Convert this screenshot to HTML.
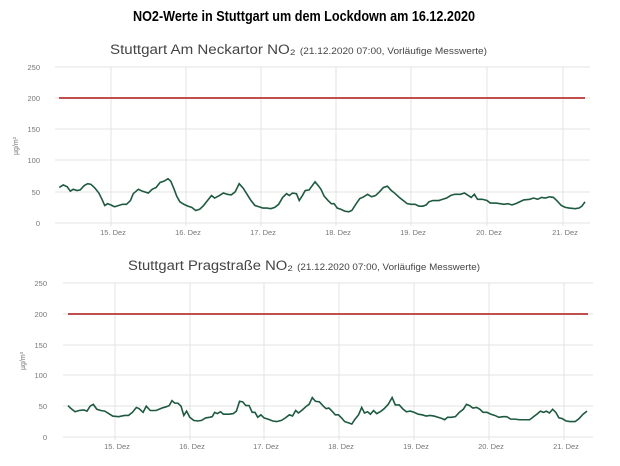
<!DOCTYPE html>
<html><head><meta charset="utf-8"><style>
html,body{margin:0;padding:0;background:#fff;}
svg{display:block;font-family:"Liberation Sans",sans-serif;}
</style></head><body>
<svg width="620" height="466" viewBox="0 0 620 466">
<text x="133" y="21" textLength="342" lengthAdjust="spacingAndGlyphs" font-size="15" font-weight="bold" fill="#000">NO2-Werte in Stuttgart um dem Lockdown am 16.12.2020</text>

<!-- Chart 1 -->
<text x="110" y="54" textLength="377" lengthAdjust="spacingAndGlyphs" font-size="13.5" fill="#444">Stuttgart Am Neckartor NO₂ <tspan font-size="9">(21.12.2020 07:00, Vorläufige Messwerte)</tspan></text>
<g stroke="#e3e3e3" stroke-width="1">
<line x1="55" x2="590" y1="67" y2="67"/><line x1="55" x2="590" y1="98" y2="98"/><line x1="55" x2="590" y1="129" y2="129"/><line x1="55" x2="590" y1="160" y2="160"/><line x1="55" x2="590" y1="192" y2="192"/><line x1="55" x2="590" y1="223" y2="223"/>
<line x1="111" x2="111" y1="67" y2="226"/><line x1="186" x2="186" y1="67" y2="226"/><line x1="261" x2="261" y1="67" y2="226"/><line x1="336" x2="336" y1="67" y2="226"/><line x1="411" x2="411" y1="67" y2="226"/><line x1="487" x2="487" y1="67" y2="226"/><line x1="563" x2="563" y1="67" y2="226"/>
</g>
<g font-size="7.5" fill="#777" text-anchor="end">
<text x="40" y="70">250</text><text x="40" y="101">200</text><text x="40" y="132">150</text><text x="40" y="163">100</text><text x="40" y="195">50</text><text x="40" y="226">0</text>
</g>
<g font-size="7.5" fill="#777" text-anchor="middle">
<text x="113" y="235">15. Dez</text><text x="188" y="235">16. Dez</text><text x="263" y="235">17. Dez</text><text x="338" y="235">18. Dez</text><text x="413" y="235">19. Dez</text><text x="489" y="235">20. Dez</text><text x="565" y="235">21. Dez</text>
</g>
<text transform="translate(18,146) rotate(-90)" font-size="7" fill="#777" text-anchor="middle">µg/m³</text>
<line x1="59" x2="585" y1="98" y2="98" stroke="#c0504d" stroke-width="2"/>
<g transform="translate(0,223) scale(0.3953,-0.624)">
<polyline fill="none" stroke="#1d5a3f" stroke-width="1.6" vector-effect="non-scaling-stroke" points="150,57 160,61 170,58 178,51 185,54 195,52 203,53 213,60 222,63 230,62 240,56 250,48 258,38 265,28 272,31 280,29 290,26 300,28 310,30 320,30 330,36 337,47 350,54 360,51 375,48 385,54 395,57 405,65 415,67 425,71 432,67 440,55 447,43 455,34 465,30 475,27 485,25 495,20 505,22 515,28 525,36 535,44 543,40 555,44 565,48 575,46 585,45 595,50 605,63 615,56 625,46 635,36 645,28 655,26 665,24 675,24 685,23 695,25 705,30 715,41 725,47 732,44 740,48 750,47 757,36 765,44 772,52 782,53 790,60 797,66 805,60 812,54 820,43 830,36 838,31 845,31 853,24 862,22 872,19 882,18 890,20 900,30 910,39 920,42 930,46 940,42 950,44 960,50 970,57 980,59 990,52 1000,47 1010,41 1020,36 1030,31 1040,30 1050,30 1060,27 1070,27 1078,29 1085,34 1095,36 1110,36 1120,38 1130,40 1140,44 1150,46 1165,46 1175,48 1185,44 1192,41 1200,46 1208,38 1220,38 1232,36 1240,32 1255,32 1265,31 1275,30 1285,31 1295,29 1305,31 1315,34 1325,37 1340,38 1350,40 1360,38 1370,41 1380,40 1390,42 1400,41 1410,35 1420,28 1430,25 1440,24 1455,23 1465,24 1472,27 1480,34"/>
</g>

<!-- Chart 2 -->
<text x="128" y="270" textLength="352" lengthAdjust="spacingAndGlyphs" font-size="13.5" fill="#444">Stuttgart Pragstraße NO₂ <tspan font-size="9">(21.12.2020 07:00, Vorläufige Messwerte)</tspan></text>
<g stroke="#e3e3e3" stroke-width="1">
<line x1="63" x2="593" y1="283" y2="283"/><line x1="63" x2="593" y1="314" y2="314"/><line x1="63" x2="593" y1="345" y2="345"/><line x1="63" x2="593" y1="375" y2="375"/><line x1="63" x2="593" y1="406" y2="406"/><line x1="63" x2="593" y1="437" y2="437"/>
<line x1="115" x2="115" y1="283" y2="440"/><line x1="190" x2="190" y1="283" y2="440"/><line x1="264" x2="264" y1="283" y2="440"/><line x1="339" x2="339" y1="283" y2="440"/><line x1="414" x2="414" y1="283" y2="440"/><line x1="489" x2="489" y1="283" y2="440"/><line x1="564" x2="564" y1="283" y2="440"/>
</g>
<g font-size="7.5" fill="#777" text-anchor="end">
<text x="47" y="286">250</text><text x="47" y="317">200</text><text x="47" y="348">150</text><text x="47" y="378">100</text><text x="47" y="409">50</text><text x="47" y="440">0</text>
</g>
<g font-size="7.5" fill="#777" text-anchor="middle">
<text x="117" y="449">15. Dez</text><text x="192" y="449">16. Dez</text><text x="266" y="449">17. Dez</text><text x="341" y="449">18. Dez</text><text x="416" y="449">19. Dez</text><text x="491" y="449">20. Dez</text><text x="566" y="449">21. Dez</text>
</g>
<text transform="translate(25,361) rotate(-90)" font-size="7" fill="#777" text-anchor="middle">µg/m³</text>
<line x1="68" x2="588" y1="314" y2="314" stroke="#c0504d" stroke-width="2"/>
<g transform="translate(0,437) scale(0.3953,-0.616)">
<polyline fill="none" stroke="#1d5a3f" stroke-width="1.6" vector-effect="non-scaling-stroke" points="172,51 180,46 190,41 200,43 212,44 220,42 228,50 236,53 245,45 255,43 265,42 275,38 285,34 300,33 315,35 325,35 335,40 345,48 352,46 362,40 370,50 380,43 395,43 410,47 420,49 428,51 435,59 442,55 450,55 458,50 465,35 472,42 480,32 490,27 500,26 510,27 520,31 530,32 537,33 543,40 550,38 558,41 565,37 580,37 590,38 598,42 606,58 614,57 622,51 630,51 638,40 645,40 652,32 660,36 668,31 678,29 690,26 700,25 712,27 722,31 732,36 740,34 748,43 755,39 765,44 775,50 782,53 790,64 798,58 808,57 818,50 825,46 832,47 840,42 848,36 856,36 864,31 872,25 882,23 890,21 897,28 907,36 915,48 922,39 930,41 937,37 945,43 953,38 962,41 972,46 982,53 992,64 1000,52 1010,52 1020,45 1028,41 1038,42 1048,40 1058,37 1068,36 1078,34 1088,35 1098,34 1108,32 1118,30 1125,28 1132,32 1142,32 1152,33 1162,40 1172,45 1180,53 1188,51 1196,47 1206,48 1214,45 1222,40 1232,40 1242,37 1252,35 1262,32 1272,33 1282,33 1292,29 1302,29 1315,28 1340,28 1350,33 1360,38 1367,42 1375,40 1382,42 1390,39 1398,45 1406,40 1414,31 1422,30 1432,26 1442,25 1455,25 1465,30 1475,37 1485,42"/>
</g>
</svg>
</body></html>
